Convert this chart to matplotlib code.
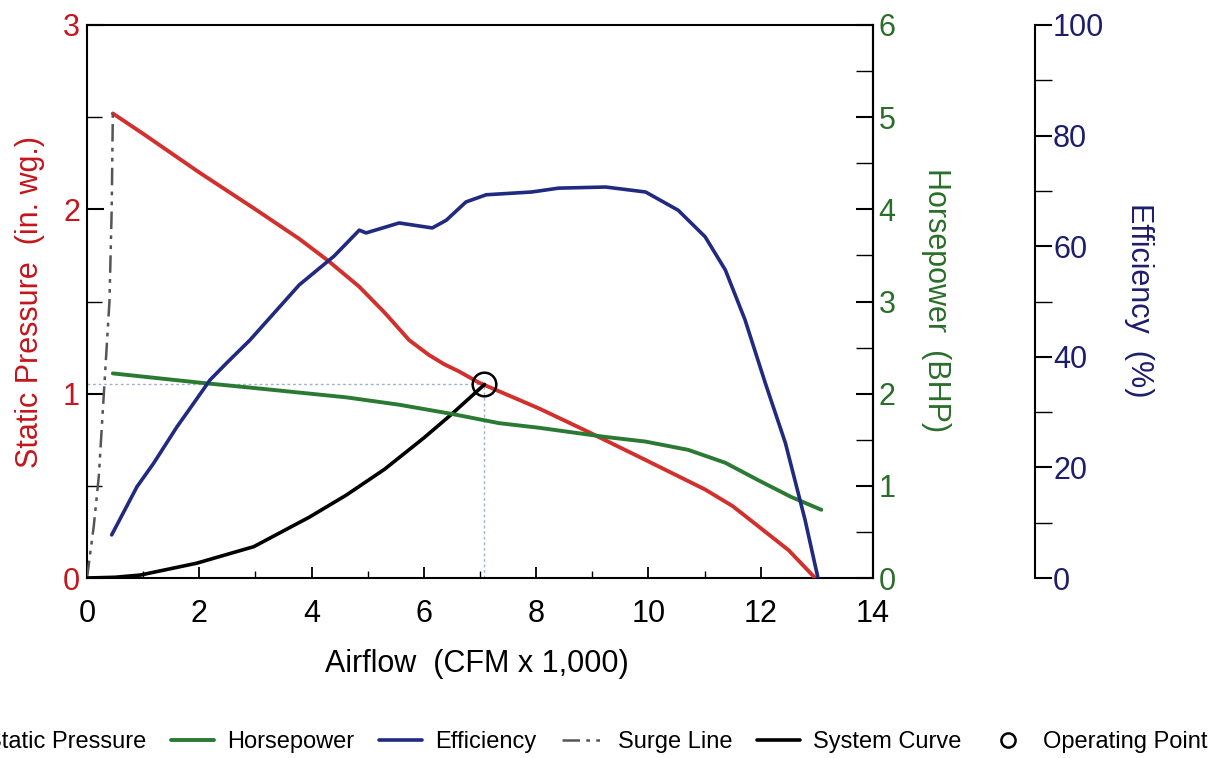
import matplotlib
matplotlib.use('Agg')
import matplotlib.pyplot as plt
from matplotlib import font_manager
from matplotlib.ticker import MultipleLocator
from matplotlib.legend_handler import HandlerLine2D

names = {f.name for f in font_manager.fontManager.ttflist}
NARROW = 'Liberation Sans Narrow' if 'Liberation Sans Narrow' in names else 'Liberation Sans'
plt.rcParams['font.family'] = ['Liberation Sans', 'DejaVu Sans']

# ---- data ----
sp_x = [0.46, 1.0, 2.0, 3.0, 3.78, 4.3, 4.85, 5.3, 5.74, 6.09, 6.36, 6.63, 6.98, 8.05, 8.88, 9.95,
        11.01, 11.5, 11.96, 12.5, 12.97]
sp_y = [2.52, 2.41, 2.20, 2.00, 1.84, 1.72, 1.58, 1.44, 1.29, 1.21, 1.16, 1.12, 1.06, 0.92, 0.80, 0.64,
        0.48, 0.39, 0.28, 0.15, 0.0]

hp_x = [0.46, 2.0, 3.0, 4.62, 5.56, 6.5, 7.34, 8.05, 9.24, 9.95, 10.71, 11.37, 11.96, 12.54, 13.08]
hp_y = [2.22, 2.12, 2.06, 1.96, 1.88, 1.78, 1.68, 1.63, 1.53, 1.48, 1.39, 1.25, 1.06, 0.88, 0.74]

ef_x = [0.44, 0.89, 1.19, 1.6, 1.9, 2.19, 2.49, 2.9, 3.78, 4.4, 4.85, 4.97, 5.56, 6.15, 6.40, 6.75,
        7.11, 7.92, 8.40, 9.24, 9.95, 10.53, 11.01, 11.37, 11.72, 12.08, 12.44, 12.79, 13.02]
ef_y = [7.8, 16.5, 20.8, 27.3, 31.6, 35.8, 38.9, 43.0, 53.0, 58.2, 62.9, 62.4, 64.2, 63.3, 64.7, 68.0,
        69.3, 69.8, 70.5, 70.7, 69.8, 66.5, 61.7, 55.7, 46.7, 35.3, 24.4, 10.5, 0.0]

sys_x = [0, 0.5, 0.95, 1.95, 2.97, 3.96, 4.62, 5.3, 6.0, 6.5, 7.08]
sys_y = [0, 0.004, 0.016, 0.08, 0.17, 0.33, 0.45, 0.59, 0.76, 0.89, 1.05]

surge_x = [0, 0.12, 0.21, 0.30, 0.40, 0.44, 0.46]
surge_y = [0, 0.28, 0.55, 1.00, 1.50, 2.00, 2.52]

op_x = 7.08
op_y = 1.05

x_ticks = [0, 2, 4, 6, 8, 10, 12, 14]
sp_ticks = [0, 1, 2, 3]
hp_ticks = [0, 1, 2, 3, 4, 5, 6]
ef_ticks = [0, 20, 40, 60, 80, 100]

legend_labels = ['Static Pressure', 'Horsepower', 'Efficiency', 'Surge Line', 'System Curve', 'Operating Point']

# ---- colours ----
RED_L, RED_T = '#D2302C', '#C4161C'
GRN_L, GRN_T = '#2B7A34', '#2A6E2A'
NAV_L, NAV_T = '#1F2A80', '#1D1D6B'
GUIDE = '#9DB3CC'


class RightMarker(HandlerLine2D):
    """Marker-only legend entry drawn near the right end of its handle box."""
    def get_xdata(self, legend, xdescent, ydescent, width, height, fontsize):
        xdata, _ = super().get_xdata(legend, xdescent, ydescent, width, height, fontsize)
        return xdata, [0.86 * width - xdescent]


W, H = 1225, 758
fig = plt.figure(figsize=(W / 100, H / 100), dpi=100)
L, R, B, T = 87, 873, 578, 25
ax = fig.add_axes([L / W, 1 - B / H, (R - L) / W, (B - T) / H])
ax2 = ax.twinx()
ax3 = ax.twinx()

ax.set_xlim(0, 14)
ax.set_ylim(0, 3)
ax2.set_ylim(0, 6)
ax3.set_ylim(0, 100)

# guide lines to the operating point
ax.plot([0, op_x], [op_y, op_y], color=GUIDE, lw=1.0, ls=(0, (2, 2)), zorder=1)
ax.plot([op_x, op_x], [0, op_y], color=GUIDE, lw=1.0, ls=(0, (2, 2)), zorder=1)

l_sp, = ax.plot(sp_x, sp_y, color=RED_L, lw=2.8, solid_capstyle='round', solid_joinstyle='round', zorder=3)
l_surge, = ax.plot(surge_x, surge_y, color='#555555', lw=1.8, ls=(0, (7, 2.5, 1.5, 2.5, 1.5, 2.5)), zorder=3)
l_sys, = ax.plot(sys_x, sys_y, color='black', lw=2.6, solid_capstyle='round', solid_joinstyle='round', zorder=3)
l_op, = ax.plot([op_x], [op_y], 'o', mfc='none', mec='black', mew=1.8, ms=17, zorder=4)
l_hp, = ax2.plot(hp_x, hp_y, color=GRN_L, lw=2.8, solid_capstyle='round', solid_joinstyle='round', zorder=3)
l_ef, = ax3.plot(ef_x, ef_y, color=NAV_L, lw=2.6, solid_capstyle='round', solid_joinstyle='round', zorder=3)

# ---- axes styling ----
for a in (ax2, ax3):
    a.patch.set_visible(False)
for s in ('top', 'left', 'bottom'):
    ax3.spines[s].set_visible(False)
    ax2.spines[s].set_visible(False)
ax3.spines['right'].set_position(('axes', (1035 - L) / (R - L)))
for a in (ax, ax2, ax3):
    for s in a.spines.values():
        s.set_linewidth(1.5)
        s.set_color('black')

ax.set_xticks(x_ticks)
ax.xaxis.set_minor_locator(MultipleLocator(1))
ax.set_yticks(sp_ticks)
ax.yaxis.set_minor_locator(MultipleLocator(0.5))
ax2.set_yticks(hp_ticks)
ax2.yaxis.set_minor_locator(MultipleLocator(0.5))
ax3.set_yticks(ef_ticks)
ax3.yaxis.set_minor_locator(MultipleLocator(10))

ax.tick_params(axis='x', which='major', direction='in', length=8, width=1.3, labelsize=22, pad=15, top=False)
ax.tick_params(axis='x', which='minor', direction='in', length=5, width=1.0, top=False)
ax.tick_params(axis='y', which='major', direction='in', length=12, width=1.5, labelsize=22,
               labelcolor=RED_T, pad=5, right=False)
ax.tick_params(axis='y', which='minor', direction='in', length=11, width=1.0, right=False)
ax2.tick_params(axis='y', which='major', direction='in', length=12, width=1.5, labelsize=22,
                labelcolor=GRN_T, pad=4)
ax2.tick_params(axis='y', which='minor', direction='in', length=12, width=1.0)
ax3.tick_params(axis='y', which='major', direction='out', length=12, width=1.5, labelsize=22,
                labelcolor=NAV_T, pad=1)
ax3.tick_params(axis='y', which='minor', direction='out', length=12, width=1.0)

# ---- axis titles ----
fig.text(30 / W, 1 - 302 / H, 'Static Pressure  (in. wg.)', rotation=90, ha='center', va='center',
         fontsize=22, color=RED_T)
fig.text(936 / W, 1 - 300 / H, 'Horsepower  (BHP)', rotation=270, ha='center', va='center',
         fontsize=22, color=GRN_T)
fig.text(1139 / W, 1 - 300 / H, 'Efficiency  (%)', rotation=270, ha='center', va='center',
         fontsize=22, color=NAV_T)
fig.text(477 / W, 1 - 664 / H, 'Airflow  (CFM x 1,000)', ha='center', va='center', fontsize=22)

# ---- legend ----
handles = [l_sp, l_hp, l_ef, l_surge, l_sys, l_op]
fs = 20 if NARROW == 'Liberation Sans Narrow' else 17
leg = fig.legend(handles, legend_labels, loc='center right', bbox_to_anchor=(1219 / W, 1 - 742 / H),
                 ncol=6, frameon=False, borderpad=0, handlelength=1.8, handletextpad=0.58,
                 columnspacing=1.05, markerscale=0.6, prop={'family': NARROW, 'size': fs},
                 handler_map={l_op: RightMarker(numpoints=1)})

fig.savefig('out.png', dpi=100)
